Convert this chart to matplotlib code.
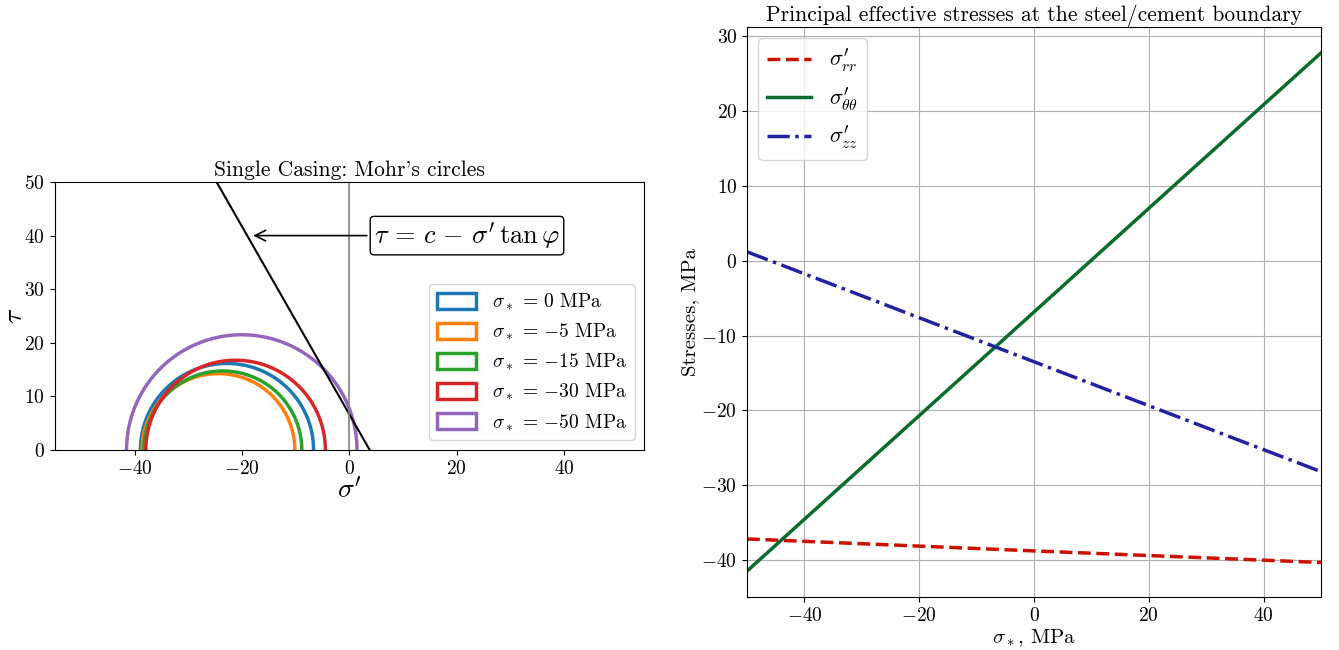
import numpy as np
import matplotlib
matplotlib.use("Agg")
import matplotlib.pyplot as plt
import matplotlib.patches as mpatches

plt.rcParams.update({
    "font.family": "serif",
    "font.serif": ["cmr10"],
    "mathtext.fontset": "cm",
    "axes.formatter.use_mathtext": True,
    "axes.unicode_minus": True,
})

# Mohr's circles: (sigma_*, centre, radius) in MPa
sigma_star_cases = [0, -5, -15, -30, -50]
circle_centres = [-22.85, -24.45, -23.65, -21.25, -20.1]
circle_radii = [16.15, 14.25, 14.75, 16.75, 21.5]
circle_colors = ["#1f77b4", "#ff7f0e", "#2ca02c", "#d62728", "#9467bd"]

# Mohr-Coulomb failure line tau = c - sigma' tan(phi)
cohesion = 6.6
tan_phi = 1.75

# Principal effective stresses vs sigma_*
sigma_star = [-50, 0, 50]
s_rr = [-37.2, -38.8, -40.35]
s_tt = [-41.5, -6.85, 27.8]
s_zz = [1.2, -13.5, -28.2]

fig = plt.figure(figsize=(13.39, 6.5), dpi=100)

# ---- left: Mohr's circles
ax1 = fig.add_axes([53 / 1339, 200 / 650, 593 / 1339, 268 / 650])
theta = np.linspace(0, np.pi, 300)
handles = []
for s, c, r, col in zip(sigma_star_cases, circle_centres, circle_radii, circle_colors):
    ax1.plot(c + r * np.cos(theta), r * np.sin(theta), color=col, lw=2.5)
    handles.append(mpatches.Patch(facecolor="white", edgecolor=col, lw=2.5,
                                  label=r"$\sigma_* \,=\, {%d}$ MPa" % s))

sig = np.linspace(-60, 60, 10)
ax1.plot(sig, cohesion - sig * tan_phi, color="black", lw=1.5)
ax1.axvline(0, color="grey", lw=1.2)
ax1.annotate(r"$\tau \,=\, c \,-\, \sigma'\, \tan\varphi$",
             xy=((cohesion - 40) / tan_phi + 0.6, 40), xytext=(4.6, 40),
             fontsize=19, va="center", ha="left",
             bbox=dict(boxstyle="round,pad=0.15", fc="white", ec="black"),
             arrowprops=dict(arrowstyle="->", color="black", lw=1.2))
ax1.set_xlim(-55, 55)
ax1.set_ylim(0, 50)
ax1.set_aspect("equal")
ax1.set_title("Single Casing: Mohr's circles", fontsize=15.5, pad=4)
ax1.set_xlabel(r"$\sigma'$", fontsize=20, labelpad=0)
ax1.set_ylabel(r"$\tau$", fontsize=20, labelpad=-3)
ax1.tick_params(labelsize=14)
ax1.legend(handles=handles, loc="lower right", fontsize=14,
           handlelength=2.0, handleheight=0.9)

# ---- right: principal stresses
ax2 = fig.add_axes([747 / 1339, 53 / 650, 574 / 1339, 570 / 650])
ax2.plot(sigma_star, s_rr, color="#cc1100", lw=2.5, ls="--",
         label=r"$\sigma^{\prime}_{rr}$")
ax2.plot(sigma_star, s_tt, color="#0b6b2b", lw=2.5, ls="-",
         label=r"$\sigma^{\prime}_{\theta\theta}$")
ax2.plot(sigma_star, s_zz, color="#2222a0", lw=2.5, ls="-.",
         label=r"$\sigma^{\prime}_{zz}$")
ax2.set_xlim(-50, 50)
ax2.grid(True)
ax2.set_title("Principal effective stresses at the steel/cement boundary",
              fontsize=15.5, pad=4)
ax2.set_xlabel(r"$\sigma_*$, MPa", fontsize=15, labelpad=2)
ax2.set_ylabel("Stresses, MPa", fontsize=15, labelpad=2)
ax2.tick_params(labelsize=14)
ax2.legend(loc="upper left", fontsize=16)

fig.savefig("out.png", dpi=100)
